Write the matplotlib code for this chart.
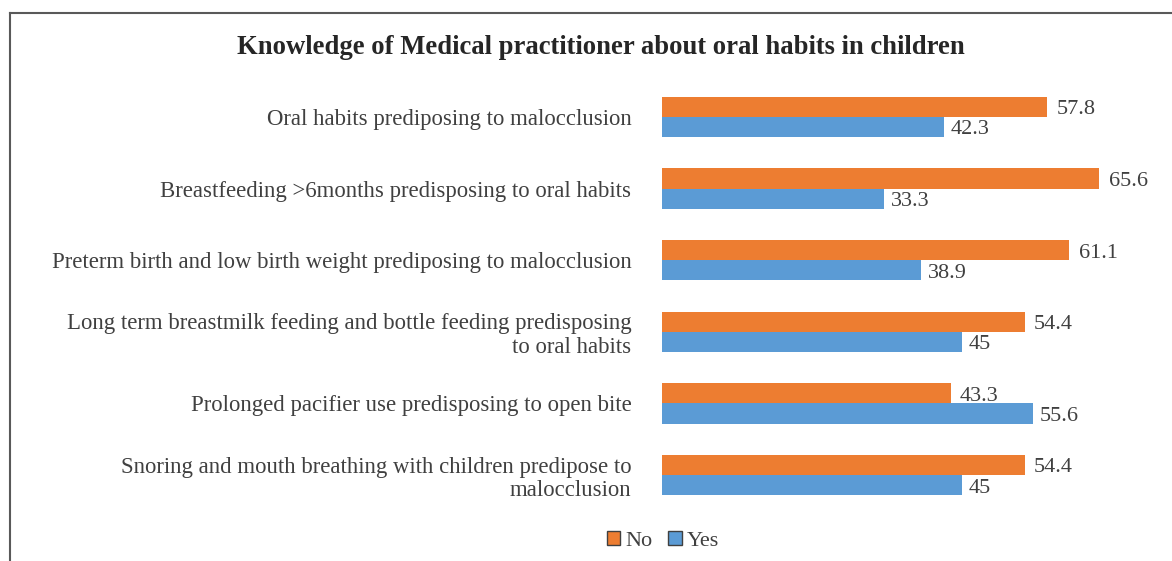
import matplotlib.pyplot as plt
import numpy as np
from matplotlib.lines import Line2D

plt.rcParams['font.family'] = ['Liberation Serif', 'DejaVu Serif']

categories = [
    "Oral habits prediposing to malocclusion",
    "Breastfeeding >6months predisposing to oral habits",
    "Preterm birth and low birth weight prediposing to malocclusion",
    "Long term breastmilk feeding and bottle feeding predisposing\nto oral habits",
    "Prolonged pacifier use predisposing to open bite",
    "Snoring and mouth breathing with children predipose to\nmalocclusion",
]
no_vals = [57.8, 65.6, 61.1, 54.4, 43.3, 54.4]
yes_vals = [42.3, 33.3, 38.9, 45, 55.6, 45]
yes_labels = ["42.3", "33.3", "38.9", "45", "55.6", "45"]
no_labels = ["57.8", "65.6", "61.1", "54.4", "43.3", "54.4"]

orange = "#ED7D31"
blue = "#5B9BD5"
txt = "#404040"

fig = plt.figure(figsize=(11.72, 5.61), dpi=100)
ax = fig.add_axes([662 / 1172, 1 - 511 / 561, 480 / 1172, 430 / 561])

y = np.arange(len(categories))
h = 0.28
ax.barh(y - h / 2, no_vals, height=h, color=orange, label="No")
ax.barh(y + h / 2, yes_vals, height=h, color=blue, label="Yes")

for yi, v, s in zip(y, no_vals, no_labels):
    ax.text(v + 1.4, yi - h / 2 + 0.04, s, va="center", ha="left", fontsize=16, color=txt)
for yi, v, s in zip(y, yes_vals, yes_labels):
    ax.text(v + 1.0, yi + h / 2 + 0.04, s, va="center", ha="left", fontsize=16, color=txt)

ax.set_xlim(0, 72)
ax.set_ylim(len(categories) - 0.5, -0.5)
ax.set_yticks(y)
ax.set_yticklabels(categories, fontsize=16.4, color=txt, ha="right", linespacing=1.15)
ax.tick_params(axis="y", length=0, pad=22)
ax.set_xticks([])
for sp in ax.spines.values():
    sp.set_visible(False)

fig.text(601 / 1172, 1 - 48 / 561, "Knowledge of Medical practitioner about oral habits in children",
         ha="center", va="center", fontsize=19.2, fontweight="bold", color="#262626")

leg = fig.legend(loc="center", bbox_to_anchor=(663 / 1172, 1 - 541 / 561), ncol=2, frameon=False,
                 fontsize=16, handlelength=0.6, handleheight=0.6, handletextpad=0.25, columnspacing=0.7)
for t in leg.get_texts():
    t.set_color(txt)
for p in leg.get_patches():
    p.set_edgecolor("#404040")
    p.set_linewidth(1)

fig.add_artist(Line2D([10 / 1172, 10 / 1172], [0, 1 - 13 / 561], color="#595959", lw=1.5))
fig.add_artist(Line2D([10 / 1172, 1], [1 - 13 / 561, 1 - 13 / 561], color="#595959", lw=1.5))

fig.savefig("out.png", dpi=100)
